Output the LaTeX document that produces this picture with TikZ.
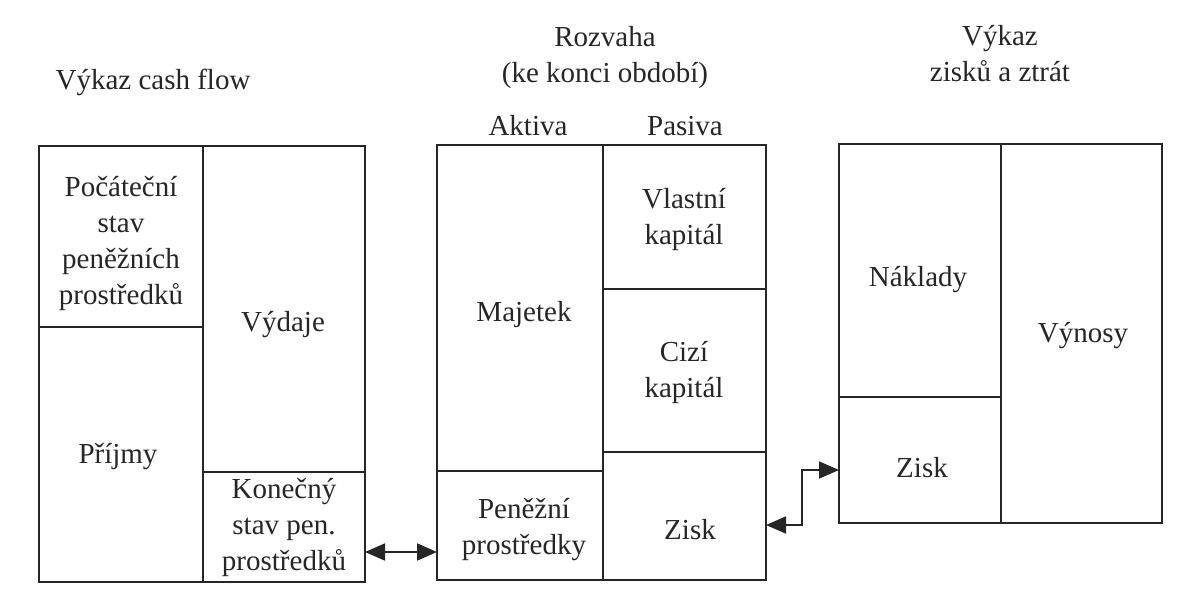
\documentclass[tikz,border=0pt]{standalone}
\usepackage{fontspec}
\setmainfont{Liberation Serif}
\usetikzlibrary{arrows.meta}
\definecolor{ink}{HTML}{262626}
\begin{document}
\begin{tikzpicture}[x=1pt,y=-1pt,
  cell/.style={draw=ink, line width=1.8pt, rectangle, inner sep=0pt, outer sep=0pt},
  txt/.style={text=ink, font=\fontsize{29}{36}\selectfont, align=center, inner sep=0pt},
  arr/.style={draw=ink, line width=1.8pt, {Triangle[length=20pt,width=17pt]}-{Triangle[length=20pt,width=17pt]}}
]
\useasboundingbox (0,0) rectangle (1179,592);
\fill[white] (0,0) rectangle (1179,592);
% headers
\node[txt] (hcf) at (153,82) {Výkaz cash flow};
\node[txt] (hroz) at (605,58) {Rozvaha\\(ke konci období)};
\node[txt] (hvzz) at (1000,54) {Výkaz\\zisků a ztrát};
\node[txt] (hakt) at (528,126) {Aktiva};
\node[txt] (hpas) at (685,126) {Pasiva};
% cash flow
\node[cell, minimum width=164pt, minimum height=181pt] (poc) at (121,236.5) {};
\node[cell, minimum width=164pt, minimum height=255pt] (pri) at (121,454.5) {};
\node[cell, minimum width=162pt, minimum height=326pt] (vyd) at (284,309) {};
\node[cell, minimum width=162pt, minimum height=110pt] (kon) at (284,527) {};
% balance sheet
\node[cell, minimum width=166pt, minimum height=326pt] (maj) at (520,308) {};
\node[cell, minimum width=166pt, minimum height=109pt] (pen) at (520,525.5) {};
\node[cell, minimum width=163pt, minimum height=144pt] (vla) at (684.5,217) {};
\node[cell, minimum width=163pt, minimum height=163pt] (ciz) at (684.5,370.5) {};
\node[cell, minimum width=163pt, minimum height=128pt] (zis1) at (684.5,516) {};
% income statement
\node[cell, minimum width=162pt, minimum height=253pt] (nak) at (920,270.5) {};
\node[cell, minimum width=162pt, minimum height=126pt] (zis2) at (920,460) {};
\node[cell, minimum width=161pt, minimum height=379pt] (vyn) at (1081.5,333.5) {};
% labels
\node[txt] (tpoc) at (121,243) {Počáteční\\stav\\peněžních\\prostředků};
\node[txt] (tvyd) at (283,325) {Výdaje};
\node[txt] (tpri) at (118,457) {Příjmy};
\node[txt] (tkon) at (284,527) {Konečný\\stav pen.\\prostředků};
\node[txt] (tmaj) at (524,315) {Majetek};
\node[txt] (tpen) at (524,530) {Peněžní\\prostředky};
\node[txt] (tvla) at (684,220) {Vlastní\\kapitál};
\node[txt] (tciz) at (684,372) {Cizí\\kapitál};
\node[txt] (tzis1) at (690,530) {Zisk};
\node[txt] (tnak) at (918,280) {Náklady};
\node[txt] (tzis2) at (922,468) {Zisk};
\node[txt] (tvyn) at (1083,336) {Výnosy};
% connectors
\coordinate (ya) at (0,552);
\coordinate (yb) at (0,525);
\coordinate (yc) at (0,470);
\coordinate (bend) at (802,0);
\draw[arr] (kon.east |- ya) -- (pen.west |- ya);
\draw[arr] (zis1.east |- yb) -- (bend |- yb) -- (bend |- yc) -- (zis2.west |- yc);
\end{tikzpicture}
\end{document}
